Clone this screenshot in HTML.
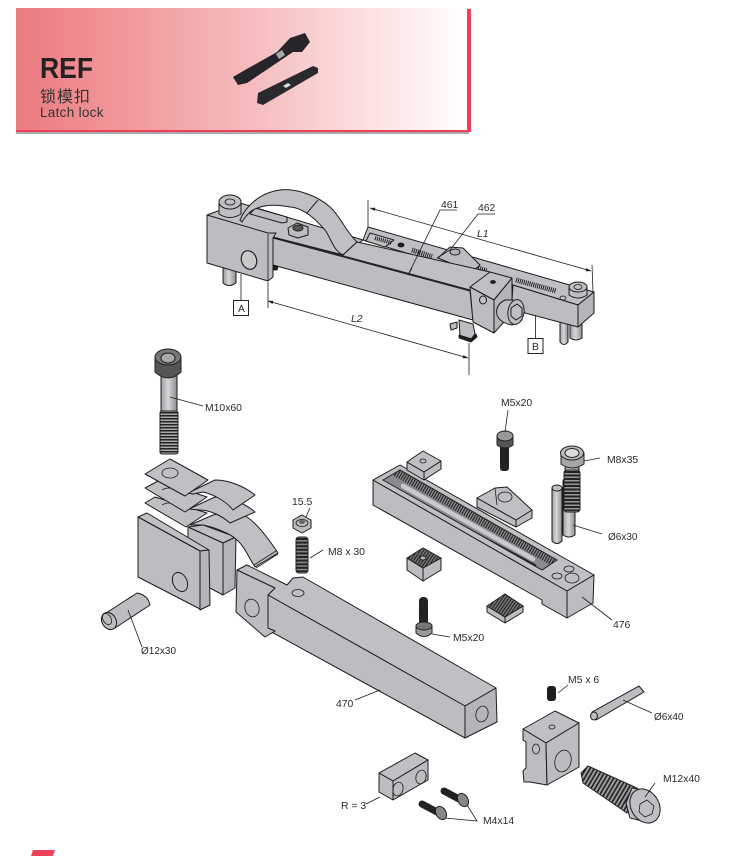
<!DOCTYPE html>
<html><head><meta charset="utf-8"><style>
html,body{margin:0;padding:0;background:#fff}
svg{display:block}
text{font-family:"Liberation Sans","Noto Sans CJK SC",sans-serif;font-size:10.4px;fill:#2a2a2a}
.g{fill:#bcbdc0;stroke:#1c1c1c;stroke-width:1;stroke-linejoin:round}
.l{fill:#bfc0c3;stroke:#1c1c1c;stroke-width:1;stroke-linejoin:round}
.d{fill:#b4b5b8;stroke:#1c1c1c;stroke-width:1;stroke-linejoin:round}
.k{fill:#222;stroke:#111;stroke-width:.8}
.n{fill:none;stroke:#1c1c1c;stroke-width:.8}
.h{fill:none;stroke:#222;stroke-width:1}
</style></head><body>
<svg width="742" height="856" viewBox="0 0 742 856" xmlns="http://www.w3.org/2000/svg">
<defs>
<linearGradient id="bg"><stop offset="0" stop-color="#ec7a80"/><stop offset=".5" stop-color="#f5b9ba"/><stop offset="1" stop-color="#fff"/></linearGradient>
<linearGradient id="cyl" x1="0" x2="1"><stop offset="0" stop-color="#9d9ea1"/><stop offset=".45" stop-color="#d6d7d9"/><stop offset="1" stop-color="#8d8e91"/></linearGradient>
<marker id="ar" markerWidth="7" markerHeight="5" refX="6.5" refY="2.5" orient="auto-start-reverse"><path d="M0 .4L7 2.5L0 4.6z" fill="#222"/></marker>
<clipPath id="c1"><polygon points="407,558 423,548 441,558 423,568"/></clipPath>
<clipPath id="c2"><polygon points="487,606 505,594 523,606 505,617"/></clipPath>
<clipPath id="c3"><polygon points="383,480 400,470 557,560 542,570"/></clipPath>
<clipPath id="c4"><polygon points="581,773 588,766 637,788 627,813 583,783"/></clipPath>
</defs>

<!-- banner -->
<rect x="16" y="132" width="453" height="2" fill="#aaa"/>
<rect x="467" y="9" width="4" height="123" fill="#ee4058"/>
<rect x="16" y="8" width="451" height="122" fill="url(#bg)"/>
<rect x="16" y="130" width="455" height="2" fill="#ee4058"/>
<text x="40" y="78" textLength="53" lengthAdjust="spacingAndGlyphs" style="font-size:29px;font-weight:bold;fill:#222">REF</text>
<text x="40" y="102" style="font-size:16px;letter-spacing:1px;fill:#333">锁模扣</text>
<text x="40" y="117" style="font-size:13.500px;letter-spacing:.3px;fill:#333">Latch lock</text>
<path d="M233 77L245 70L277 52L290 38L305 33L310 42L302 52L293 52L247 83L238 85z" fill="#26262a"/>
<path d="M276 54L282 50L285 55L279 59z" fill="#aaa"/>
<path d="M258 93L313 66L318 68L318 73L263 105L257 103z" fill="#2a2a2e"/>
<path d="M283 86L288 83L291 85L286 88z" fill="#ddd"/>

<!-- TOP ASSEMBLY -->
<!-- pegs -->
<path class="g" style="fill:url(#cyl)" d="M223 262V283Q229 288 236 283V262z"/>
<path class="g" style="fill:url(#cyl)" d="M560 322V342Q564 347 568 342V322z"/>
<path class="g" style="fill:url(#cyl)" d="M570 322V338Q576 342 582 338V322z"/>
<!-- rail -->
<polygon class="l" points="363,240 368,227 594,292 578,305 513,285"/>
<polygon class="g" points="513,285 578,305 578,327 525,313 512,300"/>
<polygon class="d" points="578,305 594,292 594,313 578,327"/>
<polygon class="l" points="370,233 394,240 385,247 366,241"/>
<line class="h" x1="375" y1="238" x2="392" y2="243" style="stroke-width:4;stroke-dasharray:1 1"/>
<ellipse class="k" cx="401" cy="245" rx="3" ry="2"/>
<line class="h" x1="412" y1="250" x2="433" y2="257" style="stroke-width:5;stroke-dasharray:1 1"/>
<line class="h" x1="516" y1="280" x2="556" y2="291" style="stroke-width:5;stroke-dasharray:1 1"/>
<line class="h" x1="478" y1="268" x2="487" y2="271" style="stroke-width:5;stroke-dasharray:1 1"/>
<!-- wedge -->
<polygon class="g" points="438,258 450,247 463,248 480,265 472,272"/>
<ellipse class="d" cx="455" cy="252" rx="5" ry="3"/>
<!-- right bolt -->
<path class="l" d="M569 287V295Q578 301 587 295V287z"/>
<ellipse class="l" cx="578" cy="287" rx="9" ry="5"/>
<ellipse class="n" cx="578" cy="287" rx="4" ry="2.500"/>
<ellipse class="n" cx="563" cy="298" rx="3" ry="2"/>
<!-- left top -->
<polygon class="l" points="207,215 240,203 363,240 343,255 275,238"/>
<path class="l" d="M219 203V214Q230 221 241 214V203z"/>
<ellipse class="l" cx="230" cy="202" rx="11" ry="7"/>
<ellipse class="n" cx="230" cy="202" rx="5" ry="3"/>
<polygon class="g" points="250,214 255,208 287,217 287,222 282,223"/>
<path class="g" d="M288 228L297 223L308 227V235L298 238L289 235z"/>
<ellipse cx="298" cy="228" rx="5" ry="3" fill="#555" stroke="#222"/>
<!-- strap -->
<path class="l" d="M240 220C245 208 258 193 280 190C296 188 318 196 330 207C341 217 346 232 357 242L343 255C333 250 332 240 325 230C318 222 305 208 290 207C280 205 262 203 250 212C247 215 244 218 242 222z"/>
<line class="h" x1="307" y1="213" x2="318" y2="200"/>
<!-- arm -->
<polygon class="l" points="273,237 343,255 357,242 490,272 470,290"/>
<polygon class="g" points="273,238 470,291 473,320 273,265"/>
<line class="n" x1="408" y1="275" x2="412" y2="268"/>
<!-- end stub -->
<path class="g" d="M459 320L473 324L475 334L471 339L460 336z"/>
<path class="k" d="M459 335L472 339L476 334L477 337L471 342L459 338z"/>
<path class="g" d="M450 324L457 322V328L451 330z"/>
<!-- end block -->
<polygon class="l" points="470,287 490,272 512,278 494,300"/>
<polygon class="g" points="470,287 494,300 494,333 473,322"/>
<polygon class="d" points="494,300 512,278 512,313 494,333"/>
<ellipse class="k" cx="493" cy="282" rx="2.500" ry="1.500"/>
<ellipse class="l" cx="483" cy="300" rx="3.500" ry="4" transform="translate(0 0)"/>
<!-- bolt end -->
<path class="g" d="M505 300Q495 305 497 315Q500 323 512 325L522 320L522 304L513 300z"/>
<ellipse class="l" cx="516" cy="312" rx="8" ry="12.500" transform="rotate(8 516 312)"/>
<path class="n" d="M511 308L517 304L522 308L522 316L516 320L511 316z" style="stroke-width:1"/>
<!-- left block -->
<polygon class="g" points="207,215 268,233 276,233 273,238 273,277 268,281 207,263"/>
<line class="n" x1="268" y1="234" x2="268" y2="281"/>
<polygon class="k" points="273,265 278,267 277,270 273,270"/>
<ellipse cx="249" cy="260" rx="7.500" ry="9.500" fill="#c8c9cb" stroke="#222" stroke-width="1.200" transform="rotate(-20 249 260)"/>
<!-- dims -->
<line class="n" x1="368" y1="200" x2="368" y2="227"/>
<line class="n" x1="592" y1="265" x2="593" y2="292"/>
<line class="n" x1="370" y1="208" x2="591" y2="271" marker-start="url(#ar)" marker-end="url(#ar)"/>
<line class="n" x1="268" y1="282" x2="268" y2="308"/>
<line class="n" x1="469" y1="343" x2="469" y2="375"/>
<line class="n" x1="268" y1="301" x2="468" y2="358" marker-start="url(#ar)" marker-end="url(#ar)"/>
<text x="477" y="237" style="font-style:italic">L1</text>
<text x="351" y="322" style="font-style:italic">L2</text>
<polyline class="n" points="457,210 440,210 408,275"/>
<text x="441" y="208">461</text>
<polyline class="n" points="495,214 478,214 450,250 437,258"/>
<text x="478" y="211">462</text>
<line class="n" x1="241" y1="274" x2="241" y2="300"/>
<rect x="233.500" y="300.500" width="15" height="15" fill="#fff" stroke="#222"/>
<text x="238" y="312">A</text>
<line class="n" x1="535.500" y1="315" x2="535.500" y2="338"/>
<rect x="528" y="338.500" width="15" height="15" fill="#fff" stroke="#222"/>
<text x="532" y="350">B</text>

<!-- M10x60 -->
<rect x="161" y="376" width="16" height="36" class="g" style="fill:url(#cyl)"/>
<rect x="160" y="411" width="18" height="43" rx="2" fill="#aaa" stroke="#222"/>
<line x1="169" y1="412" x2="169" y2="454" stroke="#222" stroke-width="17" stroke-dasharray="1.500 1.500"/>
<path d="M155 357V372Q168 384 181 372V357z" fill="#555" stroke="#222"/>
<ellipse cx="168" cy="357" rx="13" ry="8" fill="#777" stroke="#222"/>
<ellipse cx="168" cy="358" rx="7" ry="5" fill="#aaa" stroke="#222"/>
<line class="n" x1="170" y1="397" x2="203" y2="406"/>
<text x="205" y="411">M10x60</text>

<!-- back block -->
<polygon class="l" points="188,527 203,525 236,537 223,543"/>
<polygon class="g" points="188,527 223,543 223,595 210,588 188,575"/>
<polygon class="d" points="223,543 236,537 235,588 223,595"/>
<!-- strap 3 -->
<path class="l" d="M190 525L213 515C225 512 240 512 247 517C256 523 268 538 278 553L255 567C248 556 244 546 237 540C230 533 213 527 203 525z"/>
<path class="n" d="M256 568L278 554M254 565L276 551"/>
<!-- plate 3 -->
<polygon class="l" points="145,503 155,497 207,513 186,527"/>
<path class="n" d="M162 505a10 6 0 0 1 15 0"/>
<!-- strap / plate 2 -->
<path class="l" d="M189 509L215 497C230 497 246 504 255 512L230 523C222 516 210 510 200 510z"/>
<polygon class="l" points="145,488 158,481 207,497 185,512"/>
<path class="n" d="M162 490a10 6 0 0 1 15 0"/>
<!-- strap / plate 1 -->
<path class="l" d="M188 493L215 480C230 480 245 487 255 495L233 510C225 500 212 494 203 492L193 494z"/>
<polygon class="l" points="145,474 170,459 208,480 185,496"/>
<ellipse class="n" cx="170" cy="473" rx="8" ry="5"/>
<!-- front block -->
<polygon class="l" points="138,517 147,513 209,550 200,551"/>
<polygon class="g" points="138,517 200,551 200,609 138,577"/>
<polygon class="d" points="200,551 209,550 210,605 200,610"/>
<ellipse class="n" cx="180" cy="582" rx="7" ry="10" transform="rotate(-25 180 582)" style="stroke-width:1"/>

<!-- pin 12 -->
<path class="g" d="M103 615L137 593Q148 595 150 605L115 628Q103 628 103 615z"/>
<ellipse class="g" cx="109" cy="621" rx="7" ry="9" transform="rotate(-30 109 621)"/>
<ellipse class="n" cx="107" cy="619" rx="4" ry="6" transform="rotate(-30 107 619)"/>
<line class="n" x1="128" y1="610" x2="142" y2="647"/>
<text x="141" y="654" style="font-size:10px">Ø12x30</text>

<!-- arm 470 -->
<polygon class="l" points="237,570 247,565 287,585 293,578 303,577 496,688 465,706 268,595 275,588"/>
<polygon class="g" points="268,595 465,706 465,738 268,630"/>
<polygon class="d" points="465,706 496,688 497,722 465,738"/>
<polygon class="g" points="237,570 275,588 268,595 268,628 275,631 265,637 236,612"/>
<ellipse class="n" cx="252" cy="608" rx="7" ry="9" transform="rotate(-15 252 608)"/>
<ellipse class="n" cx="298" cy="593" rx="6" ry="3.500"/>
<ellipse class="n" cx="482" cy="714" rx="6" ry="8" transform="rotate(15 482 714)"/>
<polyline class="n" points="355,700 380,690"/>
<text x="336" y="707">470</text>

<!-- 15.5 / M8x30 -->
<path class="g" d="M293 520L302 515L311 520V528L302 533L293 528z"/>
<ellipse class="n" cx="302" cy="523" rx="6" ry="3.500"/>
<ellipse cx="302" cy="522" rx="3" ry="2" fill="#666"/>
<rect x="296" y="537" width="12" height="36" rx="3" fill="#888" stroke="#222"/>
<line x1="302" y1="538" x2="302" y2="572" stroke="#222" stroke-width="12" stroke-dasharray="2 1.600"/>
<line class="n" x1="310" y1="508" x2="306" y2="517"/>
<text x="292" y="505">15.5</text>
<line class="n" x1="323" y1="550" x2="310" y2="558"/>
<text x="328" y="555">M8 x 30</text>

<!-- rail 476 -->
<polygon class="g" points="373,480 567,591 567,618 542,604 542,600 373,505"/>
<polygon class="l" points="373,480 400,465 594,575 567,591"/>
<polygon class="g" points="567,591 594,575 593,603 567,618"/>
<polygon points="383,480 400,470 557,560 542,570" fill="#8a8b8e" stroke="#222"/>
<g clip-path="url(#c3)">
<line x1="396" y1="472" x2="556" y2="563" stroke="#222" stroke-width="9" stroke-dasharray="1.100 1.400"/>
<line x1="398" y1="491" x2="536" y2="566" stroke="#222" stroke-width="2.500"/>
<line x1="403" y1="486" x2="533" y2="559" stroke="#c9cacc" stroke-width="4.500" stroke-linecap="round"/>
</g>
<ellipse class="n" cx="557" cy="576" rx="5" ry="3"/>
<ellipse class="n" cx="569" cy="569" rx="5" ry="3"/>
<ellipse class="n" cx="572" cy="578" rx="7" ry="5"/>
<line class="n" x1="582" y1="597" x2="612" y2="620"/>
<text x="613" y="628">476</text>

<!-- small plate -->
<polygon class="g" points="407,462 424,472 424,480 407,470"/>
<polygon class="g" points="424,472 441,461 441,469 424,480"/>
<polygon class="l" points="407,462 423,451 441,461 424,472"/>
<ellipse class="n" cx="423" cy="461" rx="3" ry="2"/>

<!-- wedge -->
<polygon class="g" points="477,498 516,520 516,527 477,507"/>
<polygon class="g" points="516,520 532,510 532,518 516,527"/>
<polygon class="l" points="477,498 495,488 507,487 532,510 516,520"/>
<ellipse class="n" cx="505" cy="497" rx="7" ry="5"/>
<line class="n" x1="495" y1="488" x2="497" y2="505"/>

<!-- M5x20 top -->
<rect x="500" y="443" width="9" height="28" rx="3" fill="#222"/>
<path d="M497 436V445Q505 451 513 445V436z" fill="#555" stroke="#222"/>
<ellipse cx="505" cy="436" rx="8" ry="5" fill="#999" stroke="#222"/>
<line class="n" x1="508" y1="410" x2="505" y2="432"/>
<text x="501" y="406">M5x20</text>

<!-- pins and M8x35 -->
<path class="g" style="fill:url(#cyl)" d="M552 488V541Q557 546 562 541V488z"/>
<ellipse class="l" cx="557" cy="488" rx="5" ry="3"/>
<path class="g" style="fill:url(#cyl)" d="M563 480V535Q569 539 575 535V480z"/>
<rect x="565" y="466" width="14" height="12" class="g" style="fill:url(#cyl)"/>
<rect x="564" y="470" width="16" height="42" rx="3" fill="#999" stroke="#222"/>
<line x1="572" y1="471" x2="572" y2="511" stroke="#222" stroke-width="15" stroke-dasharray="2 1.500"/>
<path d="M561 453V464Q572 472 584 464V453z" fill="#a5a6a9" stroke="#222"/>
<ellipse cx="572" cy="453" rx="11.500" ry="7" fill="#bbb" stroke="#222"/>
<ellipse cx="572" cy="453" rx="7" ry="4.500" fill="#ddd" stroke="#222"/>
<line class="n" x1="584" y1="461" x2="600" y2="458"/>
<text x="607" y="463">M8x35</text>
<line class="n" x1="573" y1="525" x2="602" y2="534"/>
<text x="608" y="540" style="font-size:10px">Ø6x30</text>

<!-- hatched block -->
<polygon class="g" points="407,558 423,568 423,581 407,570"/>
<polygon class="g" points="423,568 441,558 441,570 423,581"/>
<polygon points="407,558 423,548 441,558 423,568" fill="#777" stroke="#222"/>
<g clip-path="url(#c1)"><line x1="412" y1="548" x2="437" y2="565" stroke="#222" stroke-width="24" stroke-dasharray="1.100 1.500"/></g>
<ellipse cx="423" cy="558" rx="3" ry="2" fill="#bbb" stroke="#222"/>

<!-- hatched flat -->
<polygon class="g" points="487,606 505,617 505,623 487,612"/>
<polygon class="g" points="505,617 523,606 523,612 505,623"/>
<polygon points="487,606 505,594 523,606 505,617" fill="#777" stroke="#222"/>
<g clip-path="url(#c2)"><line x1="492" y1="594" x2="518" y2="612" stroke="#222" stroke-width="26" stroke-dasharray="1.100 1.500"/></g>

<!-- M5x20 lower -->
<rect x="419" y="597" width="9" height="28" rx="4" fill="#222"/>
<path d="M416 626V633Q424 640 432 633V626z" fill="#999" stroke="#222"/>
<ellipse cx="424" cy="626" rx="8" ry="4" fill="#777" stroke="#222"/>
<line class="n" x1="432" y1="634" x2="450" y2="637"/>
<text x="453" y="641">M5x20</text>

<!-- M5 x 6 -->
<rect x="547" y="686" width="9" height="15" rx="3" fill="#1c1c1c"/>
<line class="n" x1="558" y1="693" x2="568" y2="685"/>
<text x="568" y="683">M5 x 6</text>

<!-- Ø6x40 -->
<path class="g" d="M592 712L639 686L644 692L596 720z"/>
<ellipse class="g" cx="594" cy="716" rx="3.500" ry="4"/>
<line class="n" x1="623" y1="700" x2="652" y2="713"/>
<text x="654" y="720" style="font-size:10px">Ø6x40</text>

<!-- end block -->
<polygon class="l" points="523,729 555,711 579,723 546,743"/>
<polygon class="g" points="523,729 546,743 547,785 530,782 524,782 523,771 526,768 526,742 523,740"/>
<polygon class="g" points="546,743 579,723 579,767 547,785"/>
<ellipse class="n" cx="552" cy="727" rx="3" ry="2"/>
<ellipse class="n" cx="536" cy="749" rx="3.500" ry="5"/>
<ellipse class="n" cx="563" cy="761" rx="8" ry="11" transform="rotate(15 563 761)"/>

<!-- M12x40 -->
<polygon fill="#9a9b9e" stroke="#222" points="581,773 588,766 637,788 627,813 583,783"/>
<g clip-path="url(#c4)"><line x1="580" y1="770" x2="636" y2="803" stroke="#222" stroke-width="26" stroke-dasharray="1.600 2"/></g>
<path class="g" d="M632 788L650 791L660 806L650 823L630 818L626 803z"/>
<ellipse class="l" cx="645" cy="806" rx="14" ry="18" transform="rotate(-30 645 806)"/>
<path class="n" d="M647 800L654 806L652 814L645 817L639 812L640 804z"/>
<line class="n" x1="645" y1="797" x2="655" y2="783"/>
<text x="663" y="782">M12x40</text>

<!-- R=3 block -->
<polygon class="l" points="379,773 415,753 428,760 393,781"/>
<polygon class="g" points="379,773 393,781 393,800 379,792"/>
<polygon class="g" points="393,781 428,760 428,780 393,800"/>
<ellipse class="n" cx="398" cy="789" rx="5" ry="7" transform="rotate(15 398 789)"/>
<ellipse class="n" cx="421" cy="777" rx="5" ry="7" transform="rotate(15 421 777)"/>
<line class="n" x1="366" y1="804" x2="380" y2="797"/>
<text x="341" y="809">R = 3</text>

<!-- M4x14 -->
<line x1="444" y1="791" x2="459" y2="799" stroke="#222" stroke-width="7" stroke-linecap="round"/>
<ellipse cx="463" cy="800" rx="5" ry="7" fill="#888" stroke="#222" transform="rotate(-30 463 800)"/>
<line x1="422" y1="804" x2="437" y2="812" stroke="#222" stroke-width="7" stroke-linecap="round"/>
<ellipse cx="441" cy="813" rx="5" ry="7" fill="#888" stroke="#222" transform="rotate(-30 441 813)"/>
<polyline class="n" points="445,818 477,821 467,805"/>
<text x="483" y="824">M4x14</text>

<polygon points="33,850 55,850 53,856 31,856" fill="#f0405a"/>
</svg>
</body></html>
